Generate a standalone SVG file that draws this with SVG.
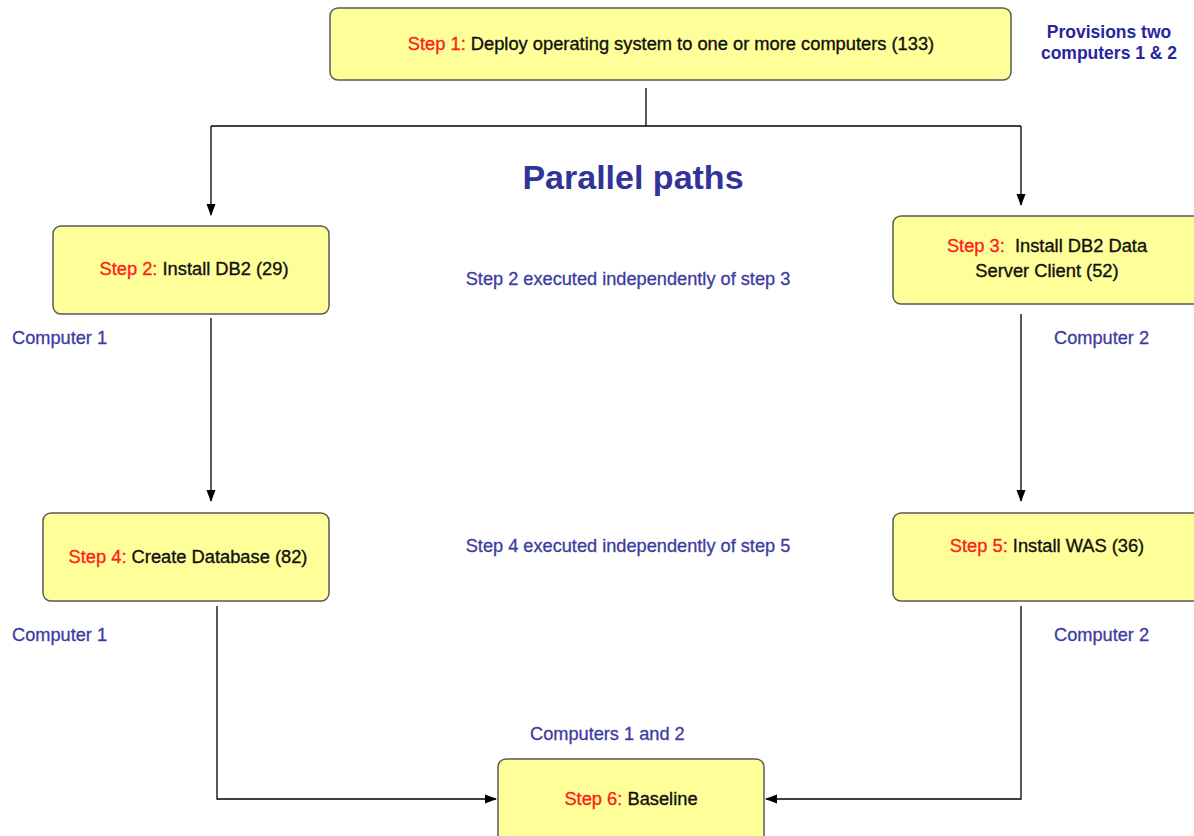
<svg xmlns="http://www.w3.org/2000/svg" width="1194" height="836" viewBox="0 0 1194 836">
<style>
.box{fill:#FFFF99;stroke:#5a5a5a;stroke-width:1.5}
.t{font-family:"Liberation Sans",Arial,sans-serif;font-size:18.3px;fill:#111;stroke:#111;stroke-width:0.35;white-space:pre}
.r{fill:#FF2020;stroke:#FF2020}
.lbl{font-family:"Liberation Sans",Arial,sans-serif;font-size:18.2px;fill:#3C3CA0;stroke:#3C3CA0;stroke-width:0.3}
.prov{font-family:"Liberation Sans",Arial,sans-serif;font-size:17.5px;font-weight:bold;fill:#2626A0}
.title{font-family:"Liberation Sans",Arial,sans-serif;font-size:34px;font-weight:bold;fill:#333399}
.c{fill:none;stroke:#000;stroke-width:1.3}
</style>
<defs>
<marker id="ah" markerWidth="12" markerHeight="10" refX="11" refY="5" orient="auto" markerUnits="userSpaceOnUse">
<path d="M0,0.5 L12,5 L0,9.5 Z" fill="#000"/>
</marker>
</defs>
<rect width="1194" height="836" fill="#fff"/>
<g id="connectors">
<path class="c" d="M646,88 V126"/>
<path class="c" d="M211,126 H1021"/>
<path class="c" d="M211,126 V215" marker-end="url(#ah)"/>
<path class="c" d="M1021,126 V205" marker-end="url(#ah)"/>
<path class="c" d="M211,318 V501" marker-end="url(#ah)"/>
<path class="c" d="M1021,314 V501" marker-end="url(#ah)"/>
<path class="c" d="M217,606 V799 H496" marker-end="url(#ah)"/>
<path class="c" d="M1021,606 V799 H766" marker-end="url(#ah)"/>
</g>
<g id="step1">
<rect class="box" x="330" y="8" width="681" height="72" rx="8"/>
<text class="t" x="671" y="50" text-anchor="middle"><tspan class="r">Step 1:</tspan> Deploy operating system to one or more computers (133)</text>
</g>
<g id="provisions">
<text class="prov" x="1109" y="38" text-anchor="middle">Provisions two</text>
<text class="prov" x="1109" y="59" text-anchor="middle">computers 1 &amp; 2</text>
</g>
<g id="title">
<text class="title" x="633" y="189" text-anchor="middle">Parallel paths</text>
</g>
<g id="step2">
<rect class="box" x="53" y="226" width="276" height="88" rx="8"/>
<text class="t" x="194" y="275" text-anchor="middle"><tspan class="r">Step 2:</tspan> Install DB2 (29)</text>
</g>
<g id="step3">
<rect class="box" x="893" y="216" width="308" height="88" rx="8"/>
<text class="t" x="1047" y="252" text-anchor="middle" xml:space="preserve"><tspan class="r">Step 3:</tspan>  Install DB2 Data</text>
<text class="t" x="1047" y="277" text-anchor="middle">Server Client (52)</text>
</g>
<g id="step4">
<rect class="box" x="43" y="513" width="286" height="88" rx="8"/>
<text class="t" x="188" y="563" text-anchor="middle"><tspan class="r">Step 4:</tspan> Create Database (82)</text>
</g>
<g id="step5">
<rect class="box" x="893" y="513" width="308" height="88" rx="8"/>
<text class="t" x="1047" y="552" text-anchor="middle"><tspan class="r">Step 5:</tspan> Install WAS (36)</text>
</g>
<g id="step6">
<rect class="box" x="498" y="759" width="266" height="90" rx="8"/>
<text class="t" x="631" y="805" text-anchor="middle"><tspan class="r">Step 6:</tspan> Baseline</text>
</g>
<g id="labels">
<text class="lbl" x="628" y="285" text-anchor="middle">Step 2 executed independently of step 3</text>
<text class="lbl" x="628" y="552" text-anchor="middle">Step 4 executed independently of step 5</text>
<text class="lbl" x="12" y="344">Computer 1</text>
<text class="lbl" x="1054" y="344">Computer 2</text>
<text class="lbl" x="12" y="641">Computer 1</text>
<text class="lbl" x="1054" y="641">Computer 2</text>
<text class="lbl" x="530" y="740">Computers 1 and 2</text>
</g>
</svg>
